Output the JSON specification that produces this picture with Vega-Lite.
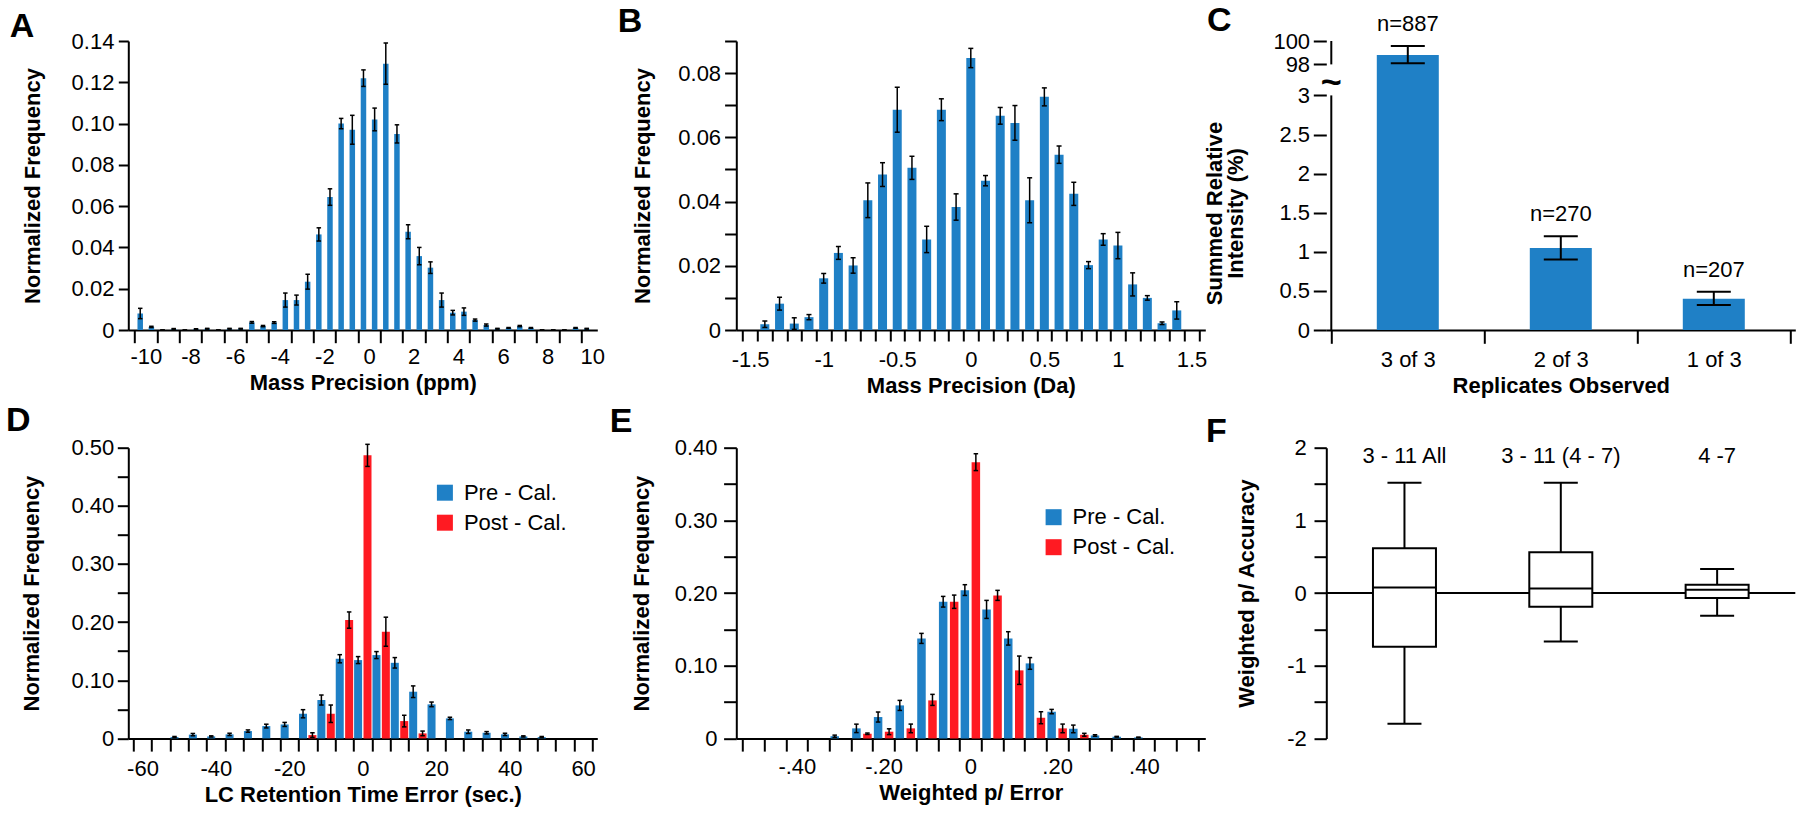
{
"$schema": "https://vega.github.io/schema/vega-lite/v6.json",
"background": "white",
"autosize": {"type": "pad"},
"padding": {"left": 5.3, "top": 4, "right": 5, "bottom": 5},
"columns": 3,
"spacing": {"row": 117.7, "column": 121},
"bounds": "flush",
"resolve": {"scale": {"color": "independent"}, "legend": {"color": "independent"}},
"datasets": {
"dA": [
{"x":-10.25,"f":0.008,"lo":0.0055,"hi":0.0105},{"x":-9.75,"f":0.0015,"lo":0.0012,"hi":0.0018},{"x":-9.25,"f":0,"lo":0,"hi":0},{"x":-8.75,"f":0.0005,"lo":0.0003,"hi":0.0007},{"x":-8.25,"f":0,"lo":0,"hi":0},{"x":-7.75,"f":0.0004,"lo":0.0002,"hi":0.0006},{"x":-7.25,"f":0.0006,"lo":0.0004,"hi":0.0008},{"x":-6.75,"f":0,"lo":0,"hi":0},{"x":-6.25,"f":0.0006,"lo":0.0004,"hi":0.0008},{"x":-5.75,"f":0.0006,"lo":0.0004,"hi":0.0008},{"x":-5.25,"f":0.0037,"lo":0.0033,"hi":0.0041},{"x":-4.75,"f":0.0019,"lo":0.0016,"hi":0.0022},{"x":-4.25,"f":0.0036,"lo":0.0032,"hi":0.004},{"x":-3.75,"f":0.0145,"lo":0.0111,"hi":0.0179},{"x":-3.25,"f":0.0145,"lo":0.0121,"hi":0.0169},{"x":-2.75,"f":0.0234,"lo":0.0198,"hi":0.027},{"x":-2.25,"f":0.0463,"lo":0.0431,"hi":0.0495},{"x":-1.75,"f":0.0644,"lo":0.0604,"hi":0.0684},{"x":-1.25,"f":0.1,"lo":0.0975,"hi":0.1025},{"x":-0.75,"f":0.097,"lo":0.09,"hi":0.104},{"x":-0.25,"f":0.122,"lo":0.118,"hi":0.126},{"x":0.25,"f":0.102,"lo":0.0965,"hi":0.1075},{"x":0.75,"f":0.129,"lo":0.119,"hi":0.139},{"x":1.25,"f":0.095,"lo":0.0906,"hi":0.0994},{"x":1.75,"f":0.0476,"lo":0.0442,"hi":0.051},{"x":2.25,"f":0.0358,"lo":0.0316,"hi":0.04},{"x":2.75,"f":0.0302,"lo":0.0274,"hi":0.033},{"x":3.25,"f":0.0145,"lo":0.0111,"hi":0.0179},{"x":3.75,"f":0.0084,"lo":0.0073,"hi":0.0095},{"x":4.25,"f":0.0089,"lo":0.0071,"hi":0.0107},{"x":4.75,"f":0.0048,"lo":0.0043,"hi":0.0053},{"x":5.25,"f":0.0024,"lo":0.0019,"hi":0.0029},{"x":5.75,"f":0.0006,"lo":0.0004,"hi":0.0008},{"x":6.25,"f":0.001,"lo":0.0008,"hi":0.0012},{"x":6.75,"f":0.0019,"lo":0.0016,"hi":0.0022},{"x":7.25,"f":0.001,"lo":0.0008,"hi":0.0012},{"x":7.75,"f":0,"lo":0,"hi":0},{"x":8.25,"f":0,"lo":0,"hi":0},{"x":8.75,"f":0,"lo":0,"hi":0},{"x":9.25,"f":0.001,"lo":0.0008,"hi":0.0012},{"x":9.75,"f":0.0006,"lo":0.0004,"hi":0.0008}
],
"dB": [
{"x":-1.4,"f":0.0018,"lo":0.0008,"hi":0.0028},{"x":-1.3,"f":0.0082,"lo":0.0062,"hi":0.0102},{"x":-1.2,"f":0.002,"lo":0.0002,"hi":0.0038},{"x":-1.1,"f":0.004,"lo":0.0032,"hi":0.0048},{"x":-1.0,"f":0.0161,"lo":0.0146,"hi":0.0176},{"x":-0.9,"f":0.024,"lo":0.022,"hi":0.026},{"x":-0.8,"f":0.0201,"lo":0.0177,"hi":0.0225},{"x":-0.7,"f":0.0404,"lo":0.035,"hi":0.0458},{"x":-0.6,"f":0.0484,"lo":0.0447,"hi":0.0521},{"x":-0.5,"f":0.0686,"lo":0.0616,"hi":0.0756},{"x":-0.4,"f":0.0505,"lo":0.0469,"hi":0.0541},{"x":-0.3,"f":0.0282,"lo":0.0241,"hi":0.0323},{"x":-0.2,"f":0.0686,"lo":0.0652,"hi":0.072},{"x":-0.1,"f":0.0383,"lo":0.0342,"hi":0.0424},{"x":0,"f":0.0847,"lo":0.0817,"hi":0.0877},{"x":0.1,"f":0.0465,"lo":0.0449,"hi":0.0481},{"x":0.2,"f":0.0667,"lo":0.0641,"hi":0.0693},{"x":0.3,"f":0.0645,"lo":0.0591,"hi":0.0699},{"x":0.4,"f":0.0404,"lo":0.0334,"hi":0.0474},{"x":0.5,"f":0.0726,"lo":0.0698,"hi":0.0754},{"x":0.6,"f":0.0546,"lo":0.0519,"hi":0.0573},{"x":0.7,"f":0.0424,"lo":0.0388,"hi":0.046},{"x":0.8,"f":0.0202,"lo":0.0191,"hi":0.0213},{"x":0.9,"f":0.0282,"lo":0.0264,"hi":0.03},{"x":1.0,"f":0.0263,"lo":0.0222,"hi":0.0304},{"x":1.1,"f":0.0142,"lo":0.0106,"hi":0.0178},{"x":1.2,"f":0.01,"lo":0.0093,"hi":0.0107},{"x":1.3,"f":0.0021,"lo":0.0017,"hi":0.0025},{"x":1.4,"f":0.0061,"lo":0.0034,"hi":0.0088}
],
"dC": [
{"reps":3,"n":"n=887","f":98.8,"lo":98.1,"hi":99.57},{"reps":2,"n":"n=270","f":1.05,"lo":0.9,"hi":1.2},{"reps":1,"n":"n=207","f":0.4,"lo":0.32,"hi":0.49}
],
"cAxis": [{"from":0,"to":3},{"from":98,"to":100}],
"dD": [
{"bin":-50,"series":"Pre - Cal.","f":0.0023,"lo":0.0013,"hi":0.0033},{"bin":-45,"series":"Pre - Cal.","f":0.0065,"lo":0.0045,"hi":0.0085},{"bin":-40,"series":"Pre - Cal.","f":0.0034,"lo":0.0024,"hi":0.0044},{"bin":-35,"series":"Pre - Cal.","f":0.0069,"lo":0.0049,"hi":0.0089},{"bin":-30,"series":"Pre - Cal.","f":0.0126,"lo":0.0106,"hi":0.0146},{"bin":-25,"series":"Pre - Cal.","f":0.0212,"lo":0.018,"hi":0.0244},{"bin":-20,"series":"Pre - Cal.","f":0.024,"lo":0.0205,"hi":0.0275},{"bin":-15,"series":"Pre - Cal.","f":0.0424,"lo":0.0354,"hi":0.0494},{"bin":-10,"series":"Pre - Cal.","f":0.066,"lo":0.0574,"hi":0.0746},{"bin":-5,"series":"Pre - Cal.","f":0.137,"lo":0.13,"hi":0.144},{"bin":0,"series":"Pre - Cal.","f":0.1347,"lo":0.1287,"hi":0.1407},{"bin":5,"series":"Pre - Cal.","f":0.1433,"lo":0.1373,"hi":0.1493},{"bin":10,"series":"Pre - Cal.","f":0.13,"lo":0.121,"hi":0.139},{"bin":15,"series":"Pre - Cal.","f":0.0803,"lo":0.0703,"hi":0.0903},{"bin":20,"series":"Pre - Cal.","f":0.0585,"lo":0.0545,"hi":0.0625},{"bin":25,"series":"Pre - Cal.","f":0.0344,"lo":0.0324,"hi":0.0364},{"bin":30,"series":"Pre - Cal.","f":0.0115,"lo":0.0085,"hi":0.0145},{"bin":35,"series":"Pre - Cal.","f":0.0097,"lo":0.0077,"hi":0.0117},{"bin":40,"series":"Pre - Cal.","f":0.0069,"lo":0.0049,"hi":0.0089},{"bin":45,"series":"Pre - Cal.","f":0.0034,"lo":0.0024,"hi":0.0044},{"bin":50,"series":"Pre - Cal.","f":0.0023,"lo":0.0013,"hi":0.0033},
{"bin":-15,"series":"Post - Cal.","f":0.0057,"lo":0.0017,"hi":0.0097},{"bin":-10,"series":"Post - Cal.","f":0.0424,"lo":0.0274,"hi":0.0574},{"bin":-5,"series":"Post - Cal.","f":0.2035,"lo":0.1895,"hi":0.2175},{"bin":0,"series":"Post - Cal.","f":0.4868,"lo":0.4678,"hi":0.5058},{"bin":5,"series":"Post - Cal.","f":0.1835,"lo":0.1585,"hi":0.2085},{"bin":10,"series":"Post - Cal.","f":0.0298,"lo":0.0198,"hi":0.0398},{"bin":15,"series":"Post - Cal.","f":0.0086,"lo":0.0046,"hi":0.0126}
],
"dE": [
{"bin":-0.3,"series":"Pre - Cal.","f":0.003,"lo":0.0015,"hi":0.0045},{"bin":-0.25,"series":"Pre - Cal.","f":0.0138,"lo":0.008,"hi":0.0196},{"bin":-0.2,"series":"Pre - Cal.","f":0.0294,"lo":0.0225,"hi":0.0363},{"bin":-0.15,"series":"Pre - Cal.","f":0.0454,"lo":0.0385,"hi":0.0523},{"bin":-0.1,"series":"Pre - Cal.","f":0.1376,"lo":0.1307,"hi":0.1445},{"bin":-0.05,"series":"Pre - Cal.","f":0.188,"lo":0.1807,"hi":0.1954},{"bin":0,"series":"Pre - Cal.","f":0.204,"lo":0.1967,"hi":0.2115},{"bin":0.05,"series":"Pre - Cal.","f":0.1775,"lo":0.1651,"hi":0.1899},{"bin":0.1,"series":"Pre - Cal.","f":0.1376,"lo":0.1284,"hi":0.1468},{"bin":0.15,"series":"Pre - Cal.","f":0.1032,"lo":0.0951,"hi":0.1112},{"bin":0.2,"series":"Pre - Cal.","f":0.0367,"lo":0.0339,"hi":0.0399},{"bin":0.25,"series":"Pre - Cal.","f":0.0133,"lo":0.0078,"hi":0.0183},{"bin":0.3,"series":"Pre - Cal.","f":0.004,"lo":0.003,"hi":0.005},{"bin":0.35,"series":"Pre - Cal.","f":0.0023,"lo":0.0018,"hi":0.0028},{"bin":0.4,"series":"Pre - Cal.","f":0.0014,"lo":0.001,"hi":0.0018},
{"bin":-0.25,"series":"Post - Cal.","f":0.0064,"lo":0.0054,"hi":0.0074},{"bin":-0.2,"series":"Post - Cal.","f":0.0092,"lo":0.0052,"hi":0.0132},{"bin":-0.15,"series":"Post - Cal.","f":0.0138,"lo":0.0078,"hi":0.0197},{"bin":-0.1,"series":"Post - Cal.","f":0.0523,"lo":0.0454,"hi":0.0606},{"bin":-0.05,"series":"Post - Cal.","f":0.188,"lo":0.1789,"hi":0.1972},{"bin":0,"series":"Post - Cal.","f":0.38,"lo":0.3685,"hi":0.3917},{"bin":0.05,"series":"Post - Cal.","f":0.1968,"lo":0.1899,"hi":0.2037},{"bin":0.1,"series":"Post - Cal.","f":0.0936,"lo":0.0743,"hi":0.1133},{"bin":0.15,"series":"Post - Cal.","f":0.0284,"lo":0.0202,"hi":0.0367},{"bin":0.2,"series":"Post - Cal.","f":0.0138,"lo":0.0078,"hi":0.0197},{"bin":0.25,"series":"Post - Cal.","f":0.005,"lo":0.003,"hi":0.007}
],
"dF": [
{"group":"3 - 11 All","lower":-1.8,"q1":-0.74,"median":0.078,"q3":0.616,"upper":1.517},
{"group":"3 - 11 (4 - 7)","lower":-0.667,"q1":-0.189,"median":0.064,"q3":0.561,"upper":1.517},
{"group":"4 -7","lower":-0.313,"q1":-0.069,"median":0.046,"q3":0.115,"upper":0.331}
]
},
"concat": [
{
"width": 486.3, "height": 289,
"title": {"text": "A", "dx": -118.5, "dy": 17.8},
"data": {"name": "dA"},
"encoding": {"x": {"field": "x", "type": "quantitative",
 "scale": {"domain": [-10.56, 10], "range": [0, 469], "nice": false, "zero": false},
 "axis": {"title": "Mass Precision (ppm)", "values": [-10.5,-10,-9.5,-8.5,-8,-7.5,-6.5,-6,-5.5,-4.5,-4,-3.5,-2.5,-2,-1.5,-0.5,0,0.5,1.5,2,2.5,3.5,4,4.5,5.5,6,6.5,7.5,8,8.5,9.5,10],
  "tickCount": 100, "tickSize": 12.7, "labelPadding": 3.8, "titlePadding": 5, "labelOverlap": false,
  "tickOpacity": {"condition": {"test": "abs(round(datum.value*10)) % 10 == 5", "value": 1}, "value": 0},
  "labelExpr": "abs(round(datum.value*10)) % 20 == 0 ? '' + datum.value : ''"}}},
"layer": [
 {"mark": {"type": "bar", "width": 5.5, "color": "#1f80c6"},
  "encoding": {"y": {"field": "f", "type": "quantitative", "scale": {"domain": [0, 0.14], "nice": false},
   "axis": {"title": "Normalized Frequency", "values": [0,0.02,0.04,0.06,0.08,0.1,0.12,0.14], "tickCount": 100, "tickSize": 10, "labelPadding": 4.4, "titlePadding": 27, "labelOverlap": false,
    "labelExpr": "datum.value == 0 ? '0' : format(datum.value, '.2f')"}}}},
 {"mark": {"type": "rule", "color": "black", "strokeWidth": 1.5}, "encoding": {"y": {"field": "lo", "type": "quantitative"}, "y2": {"field": "hi"}}},
 {"mark": {"type": "tick", "orient": "horizontal", "size": 4.5, "thickness": 1.5, "color": "black", "opacity": 1}, "encoding": {"y": {"field": "lo", "type": "quantitative"}}},
 {"mark": {"type": "tick", "orient": "horizontal", "size": 4.5, "thickness": 1.5, "color": "black", "opacity": 1}, "encoding": {"y": {"field": "hi", "type": "quantitative"}}}
]
},
{
"width": 469, "height": 289,
"title": {"text": "B", "dx": -118.6, "dy": 13},
"data": {"name": "dB"},
"encoding": {"x": {"field": "x", "type": "quantitative",
 "scale": {"domain": [-1.56, 1.56], "nice": false, "zero": false},
 "axis": {"title": "Mass Precision (Da)", "values": [-1.55,-1.5,-1.45,-1.35,-1.25,-1.15,-1.05,-1,-0.95,-0.85,-0.75,-0.65,-0.55,-0.5,-0.45,-0.35,-0.25,-0.15,-0.05,0,0.05,0.15,0.25,0.35,0.45,0.5,0.55,0.65,0.75,0.85,0.95,1,1.05,1.15,1.25,1.35,1.45,1.5,1.55],
  "tickCount": 100, "tickSize": 11, "labelPadding": 8.9, "titlePadding": 5, "labelOverlap": false,
  "tickOpacity": {"condition": {"test": "abs(round(datum.value*100)) % 10 == 5", "value": 1}, "value": 0},
  "labelExpr": "abs(round(datum.value*100)) % 50 == 0 ? '' + datum.value : ''"}}},
"layer": [
 {"mark": {"type": "bar", "width": 9, "color": "#1f80c6"},
  "encoding": {"y": {"field": "f", "type": "quantitative", "scale": {"domain": [0, 0.09], "nice": false},
   "axis": {"title": "Normalized Frequency", "values": [0,0.01,0.02,0.03,0.04,0.05,0.06,0.07,0.08,0.09], "tickCount": 100, "tickSize": 11.7, "labelPadding": 4, "titlePadding": 23, "labelOverlap": false,
    "labelExpr": "round(datum.value*100) % 2 == 0 ? (datum.value == 0 ? '0' : format(datum.value, '.2f')) : ''"}}}},
 {"mark": {"type": "rule", "color": "black", "strokeWidth": 1.5}, "encoding": {"y": {"field": "lo", "type": "quantitative"}, "y2": {"field": "hi"}}},
 {"mark": {"type": "tick", "orient": "horizontal", "size": 5, "thickness": 1.5, "color": "black", "opacity": 1}, "encoding": {"y": {"field": "lo", "type": "quantitative"}}},
 {"mark": {"type": "tick", "orient": "horizontal", "size": 5, "thickness": 1.5, "color": "black", "opacity": 1}, "encoding": {"y": {"field": "hi", "type": "quantitative"}}}
]
},
{
"width": 469, "height": 289,
"title": {"text": "C", "dx": -119.3, "dy": 29},
"data": {"name": "dC"},
"layer": [
 {"mark": {"type": "bar", "width": 62, "color": "#1f80c6"},
  "encoding": {
   "x": {"field": "reps", "type": "quantitative",
    "scale": {"domain": [0.5, 3.5], "reverse": true, "nice": false, "zero": false},
    "axis": {"title": "Replicates Observed", "values": [3.5,3,2.5,2,1.5,1,0.5], "tickCount": 100, "tickSize": 13.3, "labelPadding": 6.6, "titlePadding": 5, "labelOverlap": false,
     "tickOpacity": {"condition": {"test": "datum.value % 1 == 0.5", "value": 1}, "value": 0},
     "labelExpr": "datum.value % 1 == 0 ? datum.value + ' of 3' : ''"}},
   "y": {"field": "f", "type": "quantitative", "scale": {"domain": [0, 3, 98, 100], "range": [289, 54.4, 23.4, 0], "nice": false, "zero": false},
   "axis": {"title": ["Summed Relative", "Intensity (%)"], "values": [0,0.5,1,1.5,2,2.5,3,98,100], "tickCount": 100, "domain": false, "tickSize": 13, "labelPadding": 3.7, "titlePadding": 25, "titleY": 172, "titleLineHeight": 21, "labelOverlap": false,
    "labelExpr": "'' + datum.value"}}}},
 {"mark": {"type": "rule", "color": "black", "strokeWidth": 2}, "encoding": {"x": {"field": "reps", "type": "quantitative"}, "y": {"field": "lo", "type": "quantitative"}, "y2": {"field": "hi"}}},
 {"mark": {"type": "tick", "orient": "horizontal", "size": 34, "thickness": 2, "color": "black", "opacity": 1}, "encoding": {"x": {"field": "reps", "type": "quantitative"}, "y": {"field": "lo", "type": "quantitative"}}},
 {"mark": {"type": "tick", "orient": "horizontal", "size": 34, "thickness": 2, "color": "black", "opacity": 1}, "encoding": {"x": {"field": "reps", "type": "quantitative"}, "y": {"field": "hi", "type": "quantitative"}}},
 {"mark": {"type": "text", "fontSize": 22, "dy": -22, "baseline": "middle", "color": "black"}, "encoding": {"x": {"field": "reps", "type": "quantitative"}, "y": {"field": "hi", "type": "quantitative"}, "text": {"field": "n"}}},
 {"data": {"name": "cAxis"}, "mark": {"type": "rule", "color": "black", "strokeWidth": 2},
  "encoding": {"x": {"datum": 3.5, "type": "quantitative"}, "y": {"field": "from", "type": "quantitative"}, "y2": {"field": "to"}}},
 {"data": {"values": [{"brk": "~"}]}, "mark": {"type": "text", "fontSize": 36, "fontWeight": "bold", "baseline": "middle", "color": "black"},
  "encoding": {"x": {"datum": 3.5, "type": "quantitative"}, "y": {"datum": 40, "type": "quantitative"}, "text": {"field": "brk"}}}
]
},
{
"width": 486.3, "height": 290.7,
"title": {"text": "D", "dx": -122.4, "dy": 5},
"data": {"name": "dD"},
"encoding": {"x": {"field": "bin", "type": "quantitative",
 "scale": {"domain": [-62.5, 62.5], "range": [0, 469], "nice": false, "zero": false},
 "axis": {"title": "LC Retention Time Error (sec.)", "values": [-62.5,-60,-57.5,-52.5,-47.5,-42.5,-40,-37.5,-32.5,-27.5,-22.5,-20,-17.5,-12.5,-7.5,-2.5,0,2.5,7.5,12.5,17.5,20,22.5,27.5,32.5,37.5,40,42.5,47.5,52.5,57.5,60,62.5],
  "tickCount": 100, "tickSize": 12.7, "labelPadding": 7, "titlePadding": 5, "labelOverlap": false,
  "tickOpacity": {"condition": {"test": "abs(round(datum.value*10)) % 50 == 25", "value": 1}, "value": 0},
  "labelExpr": "abs(round(datum.value*10)) % 200 == 0 ? '' + datum.value : ''"}}},
"layer": [
 {"transform": [{"filter": "datum.series == 'Pre - Cal.'"}], "mark": {"type": "bar", "width": 8, "xOffset": -4.7},
  "encoding": {"y": {"field": "f", "type": "quantitative", "scale": {"domain": [0, 0.5], "nice": false},
   "axis": {"title": "Normalized Frequency", "values": [0,0.05,0.1,0.15,0.2,0.25,0.3,0.35,0.4,0.45,0.5], "tickCount": 100, "tickSize": 11, "labelPadding": 3.5, "titlePadding": 27, "labelOverlap": false,
    "labelExpr": "round(datum.value*100) % 10 == 0 ? (datum.value == 0 ? '0' : format(datum.value, '.2f')) : ''"}},
   "color": {"field": "series", "type": "nominal", "scale": {"domain": ["Pre - Cal.", "Post - Cal."], "range": ["#1f80c6", "#ff1a22"]},
    "legend": {"orient": "none", "legendX": 305.6, "legendY": 34, "title": null}}}},
 {"transform": [{"filter": "datum.series == 'Post - Cal.'"}], "mark": {"type": "bar", "width": 8, "xOffset": 4.7},
  "encoding": {"y": {"field": "f", "type": "quantitative"}, "color": {"field": "series", "type": "nominal"}}},
 {"transform": [{"filter": "datum.series == 'Pre - Cal.'"}], "mark": {"type": "rule", "color": "black", "strokeWidth": 1.5, "xOffset": -4.7}, "encoding": {"y": {"field": "lo", "type": "quantitative"}, "y2": {"field": "hi"}}},
 {"transform": [{"filter": "datum.series == 'Post - Cal.'"}], "mark": {"type": "rule", "color": "black", "strokeWidth": 1.5, "xOffset": 4.7}, "encoding": {"y": {"field": "lo", "type": "quantitative"}, "y2": {"field": "hi"}}},
 {"transform": [{"filter": "datum.series == 'Pre - Cal.'"}], "mark": {"type": "tick", "orient": "horizontal", "size": 4.5, "thickness": 1.5, "color": "black", "opacity": 1, "xOffset": -4.7}, "encoding": {"y": {"field": "lo", "type": "quantitative"}}},
 {"transform": [{"filter": "datum.series == 'Pre - Cal.'"}], "mark": {"type": "tick", "orient": "horizontal", "size": 4.5, "thickness": 1.5, "color": "black", "opacity": 1, "xOffset": -4.7}, "encoding": {"y": {"field": "hi", "type": "quantitative"}}},
 {"transform": [{"filter": "datum.series == 'Post - Cal.'"}], "mark": {"type": "tick", "orient": "horizontal", "size": 4.5, "thickness": 1.5, "color": "black", "opacity": 1, "xOffset": 4.7}, "encoding": {"y": {"field": "lo", "type": "quantitative"}}},
 {"transform": [{"filter": "datum.series == 'Post - Cal.'"}], "mark": {"type": "tick", "orient": "horizontal", "size": 4.5, "thickness": 1.5, "color": "black", "opacity": 1, "xOffset": 4.7}, "encoding": {"y": {"field": "hi", "type": "quantitative"}}}
]
},
{
"width": 469, "height": 290.7,
"title": {"text": "E", "dx": -126.5, "dy": 6.3},
"data": {"name": "dE"},
"encoding": {"x": {"field": "bin", "type": "quantitative",
 "scale": {"domain": [-0.528, 0.53], "nice": false, "zero": false},
 "axis": {"title": "Weighted p/ Error", "values": [-0.525,-0.475,-0.425,-0.4,-0.375,-0.325,-0.275,-0.225,-0.2,-0.175,-0.125,-0.075,-0.025,0,0.025,0.075,0.125,0.175,0.2,0.225,0.275,0.325,0.375,0.4,0.425,0.475,0.525],
  "tickCount": 100, "tickSize": 12.7, "labelPadding": 5.4, "titlePadding": 5, "labelOverlap": false,
  "tickOpacity": {"condition": {"test": "abs(round(datum.value*1000)) % 50 == 25", "value": 1}, "value": 0},
  "labelExpr": "abs(round(datum.value*1000)) % 200 == 0 ? (datum.value == 0 ? '0' : (datum.value < 0 ? '-.' : '.') + format(abs(datum.value)*100, 'd')) : ''"}}},
"layer": [
 {"transform": [{"filter": "datum.series == 'Pre - Cal.'"}], "mark": {"type": "bar", "width": 8.5, "xOffset": -5.5},
  "encoding": {"y": {"field": "f", "type": "quantitative", "scale": {"domain": [0, 0.4], "nice": false},
   "axis": {"title": "Normalized Frequency", "values": [0,0.05,0.1,0.15,0.2,0.25,0.3,0.35,0.4], "tickCount": 100, "tickSize": 12.7, "labelPadding": 6.6, "titlePadding": 20.6, "labelOverlap": false,
    "labelExpr": "round(datum.value*100) % 10 == 0 ? (datum.value == 0 ? '0' : format(datum.value, '.2f')) : ''"}},
   "color": {"field": "series", "type": "nominal", "scale": {"domain": ["Pre - Cal.", "Post - Cal."], "range": ["#1f80c6", "#ff1a22"]},
    "legend": {"orient": "none", "legendX": 306.3, "legendY": 58.5, "title": null}}}},
 {"transform": [{"filter": "datum.series == 'Post - Cal.'"}], "mark": {"type": "bar", "width": 8.5, "xOffset": 5.5},
  "encoding": {"y": {"field": "f", "type": "quantitative"}, "color": {"field": "series", "type": "nominal"}}},
 {"transform": [{"filter": "datum.series == 'Pre - Cal.'"}], "mark": {"type": "rule", "color": "black", "strokeWidth": 1.5, "xOffset": -5.5}, "encoding": {"y": {"field": "lo", "type": "quantitative"}, "y2": {"field": "hi"}}},
 {"transform": [{"filter": "datum.series == 'Post - Cal.'"}], "mark": {"type": "rule", "color": "black", "strokeWidth": 1.5, "xOffset": 5.5}, "encoding": {"y": {"field": "lo", "type": "quantitative"}, "y2": {"field": "hi"}}},
 {"transform": [{"filter": "datum.series == 'Pre - Cal.'"}], "mark": {"type": "tick", "orient": "horizontal", "size": 4.5, "thickness": 1.5, "color": "black", "opacity": 1, "xOffset": -5.5}, "encoding": {"y": {"field": "lo", "type": "quantitative"}}},
 {"transform": [{"filter": "datum.series == 'Pre - Cal.'"}], "mark": {"type": "tick", "orient": "horizontal", "size": 4.5, "thickness": 1.5, "color": "black", "opacity": 1, "xOffset": -5.5}, "encoding": {"y": {"field": "hi", "type": "quantitative"}}},
 {"transform": [{"filter": "datum.series == 'Post - Cal.'"}], "mark": {"type": "tick", "orient": "horizontal", "size": 4.5, "thickness": 1.5, "color": "black", "opacity": 1, "xOffset": 5.5}, "encoding": {"y": {"field": "lo", "type": "quantitative"}}},
 {"transform": [{"filter": "datum.series == 'Post - Cal.'"}], "mark": {"type": "tick", "orient": "horizontal", "size": 4.5, "thickness": 1.5, "color": "black", "opacity": 1, "xOffset": 5.5}, "encoding": {"y": {"field": "hi", "type": "quantitative"}}}
]
},
{
"width": 469, "height": 290.7,
"title": {"text": "F", "dx": -120.2, "dy": 15.9},
"data": {"name": "dF"},
"layer": [
 {"data": {"values": [{"ref": 0}]}, "mark": {"type": "rule", "color": "black", "strokeWidth": 2},
  "encoding": {"y": {"field": "ref", "type": "quantitative", "scale": {"domain": [-2, 2], "nice": false},
   "axis": {"title": "Weighted p/ Accuracy", "values": [-2,-1.5,-1,-0.5,0,0.5,1,1.5,2], "tickCount": 100, "tickSize": 12.3, "labelPadding": 7.7, "titlePadding": 28.7, "labelOverlap": false,
    "labelExpr": "datum.value % 1 == 0 ? '' + datum.value : ''"}}}},
 {"mark": {"type": "rule", "color": "black", "strokeWidth": 2},
  "encoding": {"x": {"field": "group", "type": "nominal", "sort": null, "scale": {"paddingInner": 0, "paddingOuter": 0}, "axis": null},
   "y": {"field": "lower", "type": "quantitative"}, "y2": {"field": "upper"}}},
 {"mark": {"type": "bar", "width": 63, "fill": "white", "stroke": "black", "strokeWidth": 2},
  "encoding": {"x": {"field": "group", "type": "nominal", "sort": null}, "y": {"field": "q1", "type": "quantitative"}, "y2": {"field": "q3"}}},
 {"mark": {"type": "tick", "orient": "horizontal", "size": 63, "thickness": 2, "color": "black", "opacity": 1},
  "encoding": {"x": {"field": "group", "type": "nominal", "sort": null}, "y": {"field": "median", "type": "quantitative"}}},
 {"mark": {"type": "tick", "orient": "horizontal", "size": 34, "thickness": 2, "color": "black", "opacity": 1},
  "encoding": {"x": {"field": "group", "type": "nominal", "sort": null}, "y": {"field": "lower", "type": "quantitative"}}},
 {"mark": {"type": "tick", "orient": "horizontal", "size": 34, "thickness": 2, "color": "black", "opacity": 1},
  "encoding": {"x": {"field": "group", "type": "nominal", "sort": null}, "y": {"field": "upper", "type": "quantitative"}}},
 {"mark": {"type": "text", "fontSize": 22, "baseline": "middle", "color": "black"},
  "encoding": {"x": {"field": "group", "type": "nominal", "sort": null}, "y": {"datum": 1.88, "type": "quantitative"}, "text": {"field": "group"}}}
]
}
],
"config": {
 "font": "Liberation Sans",
 "view": {"stroke": null},
 "axis": {"grid": false, "domainColor": "black", "domainWidth": 2, "tickColor": "black", "tickWidth": 2, "labelColor": "black", "labelFontSize": 22, "labelFont": "Liberation Sans", "titleFontSize": 22, "titleFont": "Liberation Sans", "titleFontWeight": "bold", "titleColor": "black", "labelFlush": false, "labelOverlap": false, "labelBound": false, "zindex": 1},
 "axisY": {"labelOverlap": false},
 "axisX": {"labelOverlap": false},
 "axisQuantitative": {"labelOverlap": false},
 "title": {"fontSize": 34, "fontWeight": "bold", "anchor": "start", "frame": "group", "offset": 0, "baseline": "alphabetic", "color": "black", "font": "Liberation Sans"},
 "legend": {"labelFontSize": 22, "labelFont": "Liberation Sans", "labelColor": "black", "symbolType": "square", "symbolSize": 256, "symbolStrokeWidth": 0, "rowPadding": 8, "labelOffset": 8, "padding": 0}
}
}
